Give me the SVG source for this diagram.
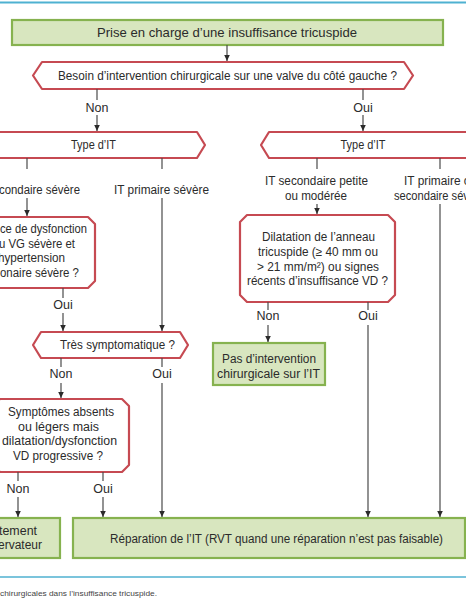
<svg xmlns="http://www.w3.org/2000/svg" width="466" height="600" viewBox="0 0 466 600">
<style>
text{font-family:"Liberation Sans Narrow","Liberation Sans",Arial,sans-serif;font-size:12.5px;fill:#2b2b2b;text-anchor:middle}
.g{fill:#d8e6bf;stroke:#86b24f;stroke-width:2.2}
.r{fill:#fff;stroke:#c64a52;stroke-width:2.2;stroke-linejoin:round}
.c line{stroke:#4a4a4a;stroke-width:1.2}
.blue{stroke:#4fb1d1;stroke-width:2}
.cap{font-size:8px;text-anchor:start;fill:#444}
.e{text-anchor:end}
.s{text-anchor:start}
</style>
<defs>
<marker id="a" viewBox="0 0 6 8" refX="6" refY="4" markerWidth="6" markerHeight="8" markerUnits="userSpaceOnUse" orient="auto">
<path d="M0,1.2 L6,4 L0,6.8 Z" fill="#2b2b2b"/>
</marker>
</defs>
<line class="blue" x1="0" y1="2.5" x2="466" y2="2.5"/>
<line class="blue" x1="0" y1="577" x2="466" y2="577" style="stroke-width:1.5"/>
<text class="cap" x="0" y="596" textLength="157" lengthAdjust="spacingAndGlyphs">chirurgicales dans l’insuffisance tricuspide.</text>

<g id="title"><rect class="g" x="12" y="20" width="431" height="25"/><text x="227" y="37" textLength="260" lengthAdjust="spacingAndGlyphs" style="font-size:13px">Prise en charge d’une insuffisance tricuspide</text></g>
<g id="q1"><path class="r" d="M33,75.5 L42,62 L404,62 L413,75.5 L404,89 L42,89 Z"/><text x="227.5" y="80" textLength="339" lengthAdjust="spacingAndGlyphs">Besoin d’intervention chirurgicale sur une valve du côté gauche ?</text></g>
<g id="typeL"><path class="r" d="M-10,132 L197,132 L205,145 L197,158 L-10,158 Z"/><text x="93.5" y="149" textLength="45" lengthAdjust="spacingAndGlyphs">Type d’IT</text></g>
<g id="typeR"><path class="r" d="M261,145 L269,132 L476,132 L476,158 L269,158 Z"/><text x="363" y="149" textLength="45" lengthAdjust="spacingAndGlyphs">Type d’IT</text></g>
<g id="absence"><path class="r" d="M-34,217 L88,217 L95,224 L95,281 L88,288 L-34,288 L-41,281 L-41,224 Z"/>
<text class="e" x="87" y="233" textLength="87" lengthAdjust="spacingAndGlyphs">ce de dysfonction</text>
<text class="e" x="75" y="248" textLength="76" lengthAdjust="spacingAndGlyphs">u VG sévère et</text>
<text class="e" x="65" y="262" textLength="67" lengthAdjust="spacingAndGlyphs">hypertension</text>
<text class="e" x="79" y="277" textLength="79" lengthAdjust="spacingAndGlyphs">onaire sévère ?</text></g>
<g id="tres"><path class="r" d="M33,345 L41,332 L180,332 L188,345 L180,358 L41,358 Z"/><text x="117.5" y="349" textLength="115" lengthAdjust="spacingAndGlyphs">Très symptomatique ?</text></g>
<g id="sympt"><path class="r" d="M0,399 L122,399 L129,406 L129,465 L122,472 L0,472 L-7,465 L-7,406 Z"/>
<text x="61" y="416" textLength="106" lengthAdjust="spacingAndGlyphs">Symptômes absents</text>
<text x="58.5" y="431" textLength="81" lengthAdjust="spacingAndGlyphs">ou légers mais</text>
<text x="59.5" y="445" textLength="115" lengthAdjust="spacingAndGlyphs">dilatation/dysfonction</text>
<text x="58" y="460" textLength="90" lengthAdjust="spacingAndGlyphs">VD progressive ?</text></g>
<g id="dilat"><path class="r" d="M247,215 L388,215 L395,222 L395,295 L388,302 L247,302 L240,295 L240,222 Z"/>
<text x="318.5" y="241" textLength="113" lengthAdjust="spacingAndGlyphs">Dilatation de l’anneau</text>
<text x="318" y="256" textLength="120" lengthAdjust="spacingAndGlyphs">tricuspide (≥ 40 mm ou</text>
<text x="318" y="271" textLength="122" lengthAdjust="spacingAndGlyphs">&gt; 21 mm/m²) ou signes</text>
<text x="317.5" y="285" textLength="141" lengthAdjust="spacingAndGlyphs">récents d’insuffisance VD ?</text></g>
<g id="pas"><rect class="g" x="213" y="343" width="112" height="42"/><text x="269" y="363" textLength="94" lengthAdjust="spacingAndGlyphs">Pas d’intervention</text><text x="268.5" y="378" textLength="103" lengthAdjust="spacingAndGlyphs">chirurgicale sur l’IT</text></g>
<g id="trait"><rect class="g" x="-45" y="518" width="105" height="40"/><text class="e" x="37" y="535" textLength="38" lengthAdjust="spacingAndGlyphs">tement</text><text class="e" x="42" y="549" textLength="44" lengthAdjust="spacingAndGlyphs">ervateur</text></g>
<g id="repar"><rect class="g" x="73" y="518" width="392" height="40"/><text x="276.5" y="543" textLength="333" lengthAdjust="spacingAndGlyphs">Réparation de l’IT (RVT quand une réparation n’est pas faisable)</text></g>

<g id="labels">
<text x="97" y="112">Non</text><text x="363" y="112">Oui</text>
<text class="e" x="80" y="194" textLength="81" lengthAdjust="spacingAndGlyphs">condaire sévère</text>
<text x="161.5" y="194" textLength="95" lengthAdjust="spacingAndGlyphs">IT primaire sévère</text>
<text x="316.5" y="185" textLength="103" lengthAdjust="spacingAndGlyphs">IT secondaire petite</text><text x="316" y="200" textLength="62" lengthAdjust="spacingAndGlyphs">ou modérée</text>
<text class="s" x="404" y="185" textLength="73" lengthAdjust="spacingAndGlyphs">IT primaire ou</text><text class="s" x="394" y="200" textLength="91" lengthAdjust="spacingAndGlyphs">secondaire sévère</text>
<text x="63" y="309">Oui</text>
<text x="61" y="378">Non</text><text x="162" y="378">Oui</text>
<text x="268" y="320">Non</text><text x="368" y="320">Oui</text>
<text x="18" y="493">Non</text><text x="103" y="493">Oui</text>
</g>

<g id="connectors" class="c">
<line x1="227" y1="45" x2="227" y2="61" marker-end="url(#a)"/>
<line x1="97" y1="89" x2="97" y2="100"/><line x1="97" y1="115" x2="97" y2="131" marker-end="url(#a)"/>
<line x1="363" y1="89" x2="363" y2="100"/><line x1="363" y1="115" x2="363" y2="131" marker-end="url(#a)"/>
<line x1="27" y1="158" x2="27" y2="169"/><line x1="27" y1="198" x2="27" y2="216" marker-end="url(#a)"/>
<line x1="162" y1="158" x2="162" y2="169"/><line x1="162" y1="198" x2="162" y2="331" marker-end="url(#a)"/>
<line x1="317" y1="158" x2="317" y2="169"/><line x1="317" y1="204" x2="317" y2="214" marker-end="url(#a)"/>
<line x1="440" y1="158" x2="440" y2="169"/><line x1="440" y1="204" x2="440" y2="517" marker-end="url(#a)"/>
<line x1="63" y1="288" x2="63" y2="298"/><line x1="63" y1="313" x2="63" y2="331" marker-end="url(#a)"/>
<line x1="61" y1="358" x2="61" y2="367"/><line x1="61" y1="383" x2="61" y2="398" marker-end="url(#a)"/>
<line x1="162" y1="358" x2="162" y2="367"/><line x1="162" y1="383" x2="162" y2="517" marker-end="url(#a)"/>
<line x1="268" y1="302" x2="268" y2="310"/><line x1="268" y1="325" x2="268" y2="342" marker-end="url(#a)"/>
<line x1="368" y1="302" x2="368" y2="310"/><line x1="368" y1="325" x2="368" y2="517" marker-end="url(#a)"/>
<line x1="18" y1="472" x2="18" y2="481"/><line x1="18" y1="497" x2="18" y2="517" marker-end="url(#a)"/>
<line x1="103" y1="472" x2="103" y2="481"/><line x1="103" y1="497" x2="103" y2="517" marker-end="url(#a)"/>
</g>
</svg>
